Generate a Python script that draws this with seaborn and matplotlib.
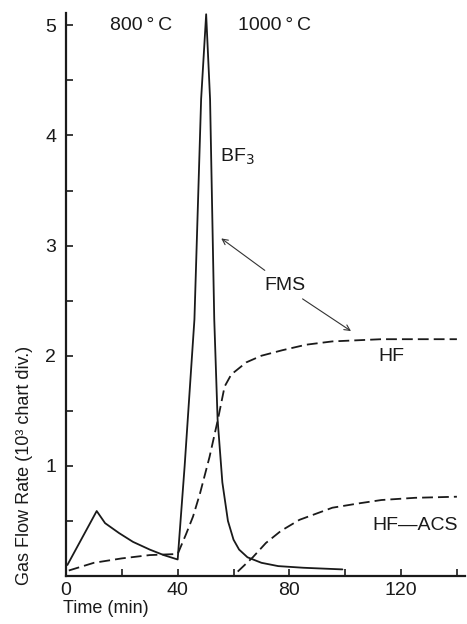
import matplotlib
matplotlib.use("Agg")
import matplotlib.pyplot as plt
import seaborn as sns
import pandas as pd

# values (time in min, flow in 10^3 chart div.)
bf3_t = [0.5, 11, 14, 19, 24, 30, 35, 40, 42.5, 46.0, 48.4, 50.2, 51.6, 53.1, 54.3, 56, 58, 60, 62, 65, 70, 76, 85, 99]
bf3_v = [0.10, 0.59, 0.48, 0.39, 0.31, 0.24, 0.19, 0.15, 1.0, 2.33, 4.33, 5.10, 4.33, 2.33, 1.42, 0.85, 0.5, 0.33, 0.24, 0.17, 0.12, 0.09, 0.075, 0.06]

hf_t = [1, 10, 20, 30, 40, 43, 45.5, 48, 51.4, 54.4, 56.8, 59.2, 64.6, 70, 77.5, 86, 95.4, 113, 140]
hf_v = [0.05, 0.12, 0.16, 0.19, 0.20, 0.38, 0.54, 0.75, 1.08, 1.42, 1.72, 1.83, 1.94, 2.0, 2.05, 2.1, 2.13, 2.15, 2.15]

hfacs_t = [61.5, 66.9, 71.6, 77, 83.6, 95.4, 105, 113, 125, 140]
hfacs_v = [0.04, 0.17, 0.30, 0.41, 0.51, 0.62, 0.66, 0.69, 0.71, 0.72]

x_major = [0, 40, 80, 120]
x_minor = [20, 60, 100, 140]
y_major = [1, 2, 3, 4, 5]
y_minor = [0.5, 1.5, 2.5, 3.5, 4.5]

sns.set_style("ticks")
plt.rcParams['font.family'] = ['Liberation Sans', 'DejaVu Sans']

fig = plt.figure(figsize=(4.67, 6.24), dpi=100)
ax = fig.add_axes([0.1413, 0.0769, 0.855, 0.902])

bf3 = pd.DataFrame({"t": bf3_t, "v": bf3_v})
hf = pd.DataFrame({"t": hf_t, "v": hf_v})
hfacs = pd.DataFrame({"t": hfacs_t, "v": hfacs_v})

sns.lineplot(data=bf3, x="t", y="v", ax=ax, color="#1a1a1a", lw=1.3)
sns.lineplot(data=hf, x="t", y="v", ax=ax, color="#1a1a1a", lw=1.3)
ax.lines[-1].set_dashes([6, 2.8])
sns.lineplot(data=hfacs, x="t", y="v", ax=ax, color="#1a1a1a", lw=1.3)
ax.lines[-1].set_dashes([6, 2.8])

ax.set_xlim(0, 143)
ax.set_ylim(0, 5.11)
ax.set_xticks(x_major)
ax.set_xticks(x_minor, minor=True)
ax.set_yticks(y_major)
ax.set_yticks(y_minor, minor=True)
ax.tick_params(which="both", direction="in", length=5, width=1.2, colors="#1a1a1a",
               labelsize=14)
ax.tick_params(axis="y", pad=7)
ax.tick_params(axis="x", pad=4)
sns.despine(ax=ax)
for s in ["left", "bottom"]:
    ax.spines[s].set_linewidth(1.6)
    ax.spines[s].set_color("#1a1a1a")

ax.set_ylabel("Gas Flow Rate (10³ chart div.)", fontsize=13, color="#1a1a1a")
ax.yaxis.set_label_coords(-0.083, 0.197)
ax.set_xlabel("Time (min)", fontsize=13, color="#1a1a1a")
ax.xaxis.label.set_ha("left")
ax.xaxis.set_label_coords(-0.008, -0.043)

txt = dict(fontsize=14, color="#1a1a1a", ha="center", va="center")
ax.text(27, 5.0, "800\u2009°\u2009C", **txt)
ax.text(74.5, 5.0, "1000\u2009°\u2009C", **txt)
ax.text(55, 3.81, "BF$_3$", fontsize=14, color="#1a1a1a", ha="left", va="center")
ax.text(78.5, 2.64, "FMS", **txt)
ax.text(116.4, 1.99, "HF", **txt)
ax.text(125, 0.46, "HF—ACS", **txt)

arrow = dict(arrowstyle="->", lw=0.8, color="#333333")
ax.annotate("", xy=(54.8, 3.08), xytext=(72, 2.76), arrowprops=arrow)
ax.annotate("", xy=(102.9, 2.21), xytext=(83.9, 2.53), arrowprops=arrow)

plt.savefig("out.png", dpi=100)
